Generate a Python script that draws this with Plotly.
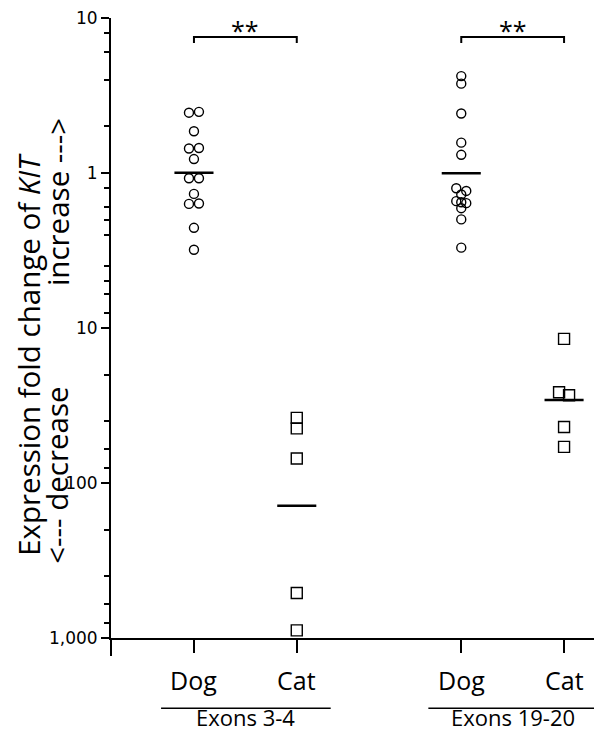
import numpy as np
import plotly.graph_objects as go

# ---------------- data ----------------
group_labels = ["Exons 3-4", "Exons 19-20"]
species_labels = ["Dog", "Cat", "Dog", "Cat"]

dog_exons34 = [2.45, 2.48, 1.86, 1.44, 1.45, 1.23, 0.925, 0.925, 0.733, 0.632, 0.636, 0.443, 0.320]
cat_exons34 = [0.0263, 0.0225, 0.0144, 0.00195, 0.00112]
dog_exons1920 = [4.22, 3.77, 2.42, 1.57, 1.31, 0.797, 0.766, 0.727, 0.658, 0.648, 0.639, 0.593, 0.502, 0.330]
cat_exons1920 = [0.0851, 0.0385, 0.0368, 0.0230, 0.0171]

y_major_vals = [10, 1, 0.1, 0.01, 0.001]
y_major_text = ["10", "1", "10", "100", "1,000"]
y_minor_mult_up = [2, 4, 6, 8]
y_minor_div_down = [2, 4, 6, 8]
significance = ["**", "**"]

# ---------------- presentation ----------------
positions = [1.0, 2.0, 3.6, 4.6]
jit_dog34 = [-1, 1, 0, -1, 1, 0, -1, 1, 0, -1, 1, 0, 0]
jit_cat34 = [0, 0, 0, 0, 0]
jit_dog1920 = [0, 0, 0, 0, 0, -1, 1, 0, -1, 0, 1, 0, 0, 0]
jit_cat1920 = [0, -1, 1, 0, 0]
jit_unit = 0.0486

OFF = 8  # default page margin of the html body
W, H = 602 - OFF, 733 - OFF
ML, MR, MT, MB = 111 - OFF, 0, 15 - OFF, 733 - 638
plot_h = H - MT - MB
plot_w = W - ML - MR


def py(p):
    """paper y from page pixel row"""
    return (H - MB - (p - OFF)) / plot_h


def px(p):
    """paper x from page pixel column"""
    return ((p - OFF) - ML) / plot_w


TXT_FONT = "Open Sans"
series = [
    (dog_exons34, jit_dog34, "circle-open", 9),
    (cat_exons34, jit_cat34, "square-open", 11),
    (dog_exons1920, jit_dog1920, "circle-open", 9),
    (cat_exons1920, jit_cat1920, "square-open", 11),
]

fig = go.Figure()
for (vals, jit, sym, size), pos in zip(series, positions):
    xs = [pos + j * jit_unit for j in jit]
    fig.add_trace(go.Scatter(
        x=xs, y=vals, mode="markers",
        marker=dict(symbol=sym, size=size, color="black", line=dict(width=1.4, color="black")),
        showlegend=False, hoverinfo="y"))
    gm = 10 ** np.mean(np.log10(vals))
    fig.add_trace(go.Scatter(
        x=[pos - 0.19, pos + 0.19], y=[gm, gm], mode="lines",
        line=dict(color="black", width=2.5), showlegend=False, hoverinfo="skip"))

minor_vals = []
for dec in [1, 10]:
    minor_vals += [m * dec / 10 for m in y_minor_mult_up]
for dec in [1, 0.1, 0.01]:
    minor_vals += [dec / d for d in y_minor_div_down]

shapes = []
annotations = []

# significance brackets
for gi, sig in enumerate(significance):
    a, b = positions[2 * gi], positions[2 * gi + 1]
    shapes.append(dict(type="path", xref="x", yref="paper",
                       path=f"M {a},{py(40)} L {a},{py(34)} L {b},{py(34)} L {b},{py(40)}",
                       line=dict(color="black", width=2)))
    annotations.append(dict(x=(a + b) / 2, y=py(27), xref="x", yref="paper", text=sig,
                            showarrow=False, font=dict(family=TXT_FONT, size=25, color="black"),
                            xanchor="center", yanchor="middle"))

# species labels
for pos, lab in zip(positions, species_labels):
    annotations.append(dict(x=pos, y=py(680), xref="x", yref="paper", text=lab, showarrow=False,
                            font=dict(family=TXT_FONT, size=25, color="black"),
                            xanchor="center", yanchor="middle"))

# group underlines and labels
for gi, glab in enumerate(group_labels):
    a, b = positions[2 * gi], positions[2 * gi + 1]
    shapes.append(dict(type="line", xref="x", yref="paper", x0=a - 0.32, x1=b + 0.33,
                       y0=py(708.5), y1=py(708.5), line=dict(color="black", width=1.5)))
    annotations.append(dict(x=(a + b) / 2, y=py(717.5), xref="x", yref="paper", text=glab,
                            showarrow=False, borderpad=0,
                            font=dict(family=TXT_FONT, size=22, color="black"),
                            xanchor="center", yanchor="middle"))

# y-axis extension below x-axis
shapes.append(dict(type="line", xref="paper", yref="paper", x0=0, x1=0, y0=0, y1=py(656),
                   line=dict(color="black", width=2)))

# y-axis title (rotated)
TITLE_SIZE = 29.5
annotations.append(dict(x=px(28.5), y=py(353), xref="paper", yref="paper",
                        text="Expression fold change of <i>KIT</i>", textangle=-90, showarrow=False,
                        font=dict(family=TXT_FONT, size=TITLE_SIZE, color="black"),
                        xanchor="center", yanchor="middle"))
annotations.append(dict(x=px(57), y=py(475), xref="paper", yref="paper",
                        text="&lt;--- decrease", textangle=-90, showarrow=False,
                        font=dict(family=TXT_FONT, size=TITLE_SIZE, color="black"),
                        xanchor="center", yanchor="middle"))
annotations.append(dict(x=px(57), y=py(200), xref="paper", yref="paper",
                        text="increase ---&gt;", textangle=-90, showarrow=False,
                        font=dict(family=TXT_FONT, size=TITLE_SIZE, color="black"),
                        xanchor="center", yanchor="middle"))

fig.update_layout(
    width=W, height=H,
    margin=dict(l=ML, r=MR, t=MT, b=MB, pad=0),
    paper_bgcolor="white", plot_bgcolor="white",
    shapes=shapes, annotations=annotations,
    xaxis=dict(range=[0.193, 4.969], tickvals=positions, showticklabels=False,
               ticks="outside", ticklen=13, tickwidth=2, tickcolor="black",
               showline=True, linewidth=2, linecolor="black",
               showgrid=False, zeroline=False, fixedrange=True),
    yaxis=dict(type="log", range=[-3, 1], tickvals=y_major_vals, ticktext=y_major_text,
               ticks="outside", ticklen=8, tickwidth=2, tickcolor="black",
               tickfont=dict(family="DejaVu Sans", size=17, color="black"),
               ticklabeloverflow="allow", ticklabelstandoff=0,
               showline=True, linewidth=2, linecolor="black",
               showgrid=False, zeroline=False, fixedrange=True,
               minor=dict(tickvals=minor_vals, ticks="outside", ticklen=5, tickwidth=2,
                          tickcolor="black", showgrid=False)),
)

fig.write_html("out.html")
